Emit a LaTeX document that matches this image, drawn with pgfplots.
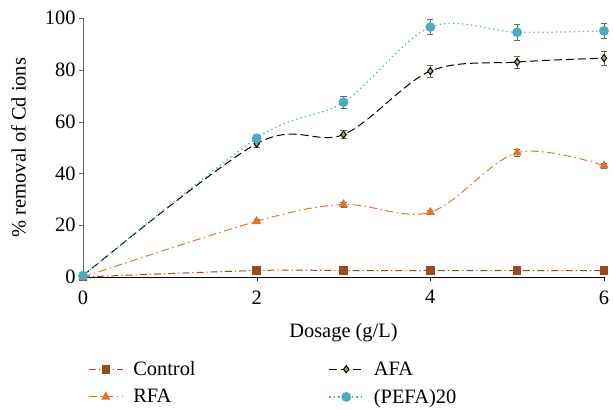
\documentclass[border=0pt]{standalone}
\usepackage{pgfplots}
\pgfplotsset{compat=1.18}
\usepackage{fontspec}
\setmainfont{Liberation Serif}

\definecolor{ctrl}{HTML}{9B4A1C}
\definecolor{rfa}{HTML}{E8722A}
\definecolor{afa}{HTML}{8FB54F}
\definecolor{pefa}{HTML}{4BACC6}
\definecolor{axisgray}{HTML}{666666}

\pgfplotstableread{
x   y    e
0   0    0
2   2.5  0
3   2.5  0
4   2.5  0
5   2.5  0
6   2.5  0
}\control
\pgfplotstableread{
x   y    e
0   0    0
2   21.5 0.8
3   28   1.0
4   25   0.8
5   48   1.5
6   43   1.0
}\rfa
\pgfplotstableread{
x   y    e
0   0.5  0
2   51.5 1.5
3   55   1.5
4   79.5 2.3
5   83   2.4
6   84.5 2.6
}\afa
\pgfplotstableread{
x   y    e
0   0.5  0
2   53.5 1.5
3   67.5 2.2
4   96.5 2.9
5   94.5 3.0
6   95   2.9
}\pefa

\begin{document}
\begin{tikzpicture}
\begin{axis}[
  at={(0,0)}, anchor=south west,
  scale only axis, width=521bp, height=259bp,
  xmin=0, xmax=6, ymin=0, ymax=100,
  axis x line*=bottom, axis y line*=left,
  x axis line style={black, -},
  y axis line style={axisgray, -, line width=1pt},
  xtick={0,2,4,6}, ytick={0,20,...,100},
  tick align=outside, major tick length=4bp,
  xtick style={black}, ytick style={axisgray},
  tick label style={font=\fontsize{20.5}{24}\selectfont},
  xticklabel style={yshift=-6bp},
  label style={font=\fontsize{20.5}{24}\selectfont},
  /pgf/number format/assume math mode=true,
  xlabel={Dosage (g/L)}, ylabel={\% removal of Cd ions},
  xlabel style={yshift=-12bp},
  ylabel style={yshift=12bp},
  clip=false,
  smooth, tension=0.55,
  error bars/y dir=both, error bars/y explicit,
  error bars/error bar style={axisgray, solid, line width=0.8pt},
  error bars/error mark options={rotate=90, mark size=3bp, axisgray, solid},
  legend columns=2,
  legend style={draw=none, fill=none, at={(0.004,-0.31)}, anchor=north west,
    font=\fontsize{20.5}{24}\selectfont, row sep=8bp,
    /tikz/every odd column/.append style={column sep=8bp},
    /tikz/every even column/.append style={column sep=131bp}},
  legend cell align=left,
  legend image code/.code={
    \draw[mark repeat=2, mark phase=2] plot coordinates {(0bp,0bp) (17bp,0bp) (34bp,0bp)};},
]
\addplot[ctrl, line width=1pt, dash pattern=on 7bp off 3bp on 1.2bp off 3bp,
  mark=square*, mark size=3.7bp, mark options={solid, fill=ctrl}]
  table[x=x, y=y, y error=e] {\control};
\addlegendentry{Control}
\addplot[black, line width=1pt, dash pattern=on 8bp off 4bp,
  mark=diamond*, mark size=3.6bp, mark options={solid, fill=afa, draw=black}]
  table[x=x, y=y, y error=e] {\afa};
\addlegendentry{AFA}
\addplot[rfa, line width=1pt, dash pattern=on 8bp off 3.5bp on 1.5bp off 3.5bp,
  mark=triangle*, mark size=4.4bp, mark options={solid, fill=rfa}]
  table[x=x, y=y, y error=e] {\rfa};
\addlegendentry{RFA}
\addplot[pefa, line width=1.2pt, dash pattern=on 1.3bp off 3.2bp,
  mark=*, mark size=4.3bp, mark options={solid, fill=pefa, draw=pefa}]
  table[x=x, y=y, y error=e] {\pefa};
\addlegendentry{(PEFA)20}
\end{axis}
\pgfresetboundingbox
\path (-83bp,-133bp) rectangle (530bp,277bp);
\end{tikzpicture}
\end{document}
